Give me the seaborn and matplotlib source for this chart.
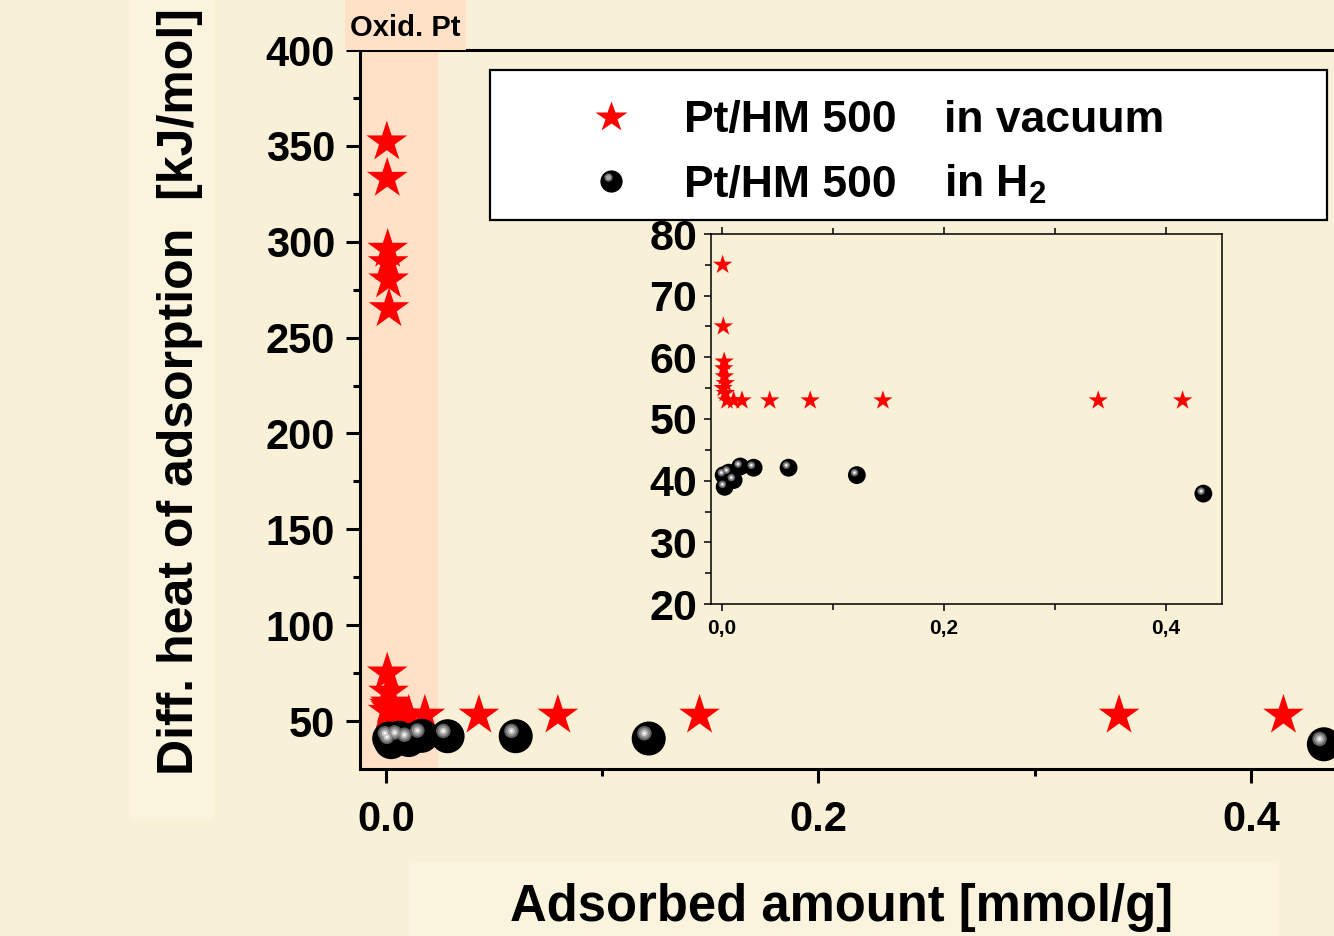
import matplotlib
matplotlib.use("Agg")
import matplotlib.pyplot as plt
import seaborn as sns
import numpy as np
import pandas as pd
from matplotlib.transforms import offset_copy
from matplotlib.patches import Rectangle
from matplotlib.lines import Line2D
from matplotlib import font_manager

# ---------------- data ----------------
x_vac = [0.0004, 0.0006, 0.0008, 0.0010, 0.0012, 0.0014,
         0.0006, 0.0012, 0.0020, 0.0016, 0.0022, 0.0030, 0.0010, 0.0030,
         0.0045, 0.0105, 0.0180, 0.0430, 0.0795, 0.1450, 0.3390, 0.4150]
y_vac = [352, 333, 296, 289, 280, 265,
         75.0, 65.0, 59.3, 58.2, 56.9, 55.8, 55.0, 54.2,
         53, 53, 53, 53, 53, 53, 53, 53]

x_h2 = [0.0015, 0.0024, 0.0060, 0.0105, 0.0165, 0.0285, 0.0600, 0.1215, 0.4337]
y_h2 = [40.9, 39.0, 41.3, 40.1, 42.3, 42.1, 42.1, 40.9, 37.9]

main_xticks = [0.0, 0.2, 0.4]
main_xticklabels = ["0.0", "0.2", "0.4"]
main_yticks = [50, 100, 150, 200, 250, 300, 350, 400]
inset_xticks = [0.0, 0.2, 0.4]
inset_xticklabels = ["0,0", "0,2", "0,4"]
inset_yticks = [20, 30, 40, 50, 60, 70, 80]

series_labels = ["Pt/HM 500", "Pt/HM 500"]
series_conditions = ["in vacuum", r"in H$_\mathbf{2}$"]
oxid_span = (-0.012, 0.024)

df_vac = pd.DataFrame({"x": x_vac, "y": y_vac})
df_h2 = pd.DataFrame({"x": x_h2, "y": y_h2})

# ---------------- style ----------------
sns.set_style("ticks")
BG = "#F9F1D7"
PEACH = "#FFE1C7"
plt.rcParams["font.family"] = ["Liberation Sans", "DejaVu Sans"]
plt.rcParams["font.weight"] = "bold"
plt.rcParams["axes.labelweight"] = "bold"
plt.rcParams["text.color"] = "black"
plt.rcParams["axes.labelcolor"] = "black"
plt.rcParams["xtick.color"] = "black"
plt.rcParams["ytick.color"] = "black"
plt.rcParams["mathtext.fontset"] = "custom"
plt.rcParams["mathtext.rm"] = "Liberation Sans:bold"
plt.rcParams["mathtext.bf"] = "Liberation Sans:bold"

names = {f.name for f in font_manager.fontManager.ttflist}
if "Liberation Sans Narrow" in names:
    narrow_family, narrow_size = ["Liberation Sans Narrow", "Liberation Sans"], 24
else:
    narrow_family, narrow_size = ["Liberation Sans", "DejaVu Sans"], 21

W, H = 1334, 936
fig = plt.figure(figsize=(W / 100, H / 100), dpi=100, facecolor=BG)

def fx(px):
    return px / W

def fy(py):
    return 1 - py / H

# lighter label backgrounds
fig.add_artist(Rectangle((fx(130), fy(820)), fx(213) - fx(130), fy(0) - fy(820),
                         transform=fig.transFigure, facecolor="#FAF4DF", edgecolor="none", zorder=0))
fig.add_artist(Rectangle((fx(410), fy(936)), fx(1278) - fx(410), fy(862) - fy(936),
                         transform=fig.transFigure, facecolor="#FAF4DF", edgecolor="none", zorder=0))

# ---------------- main axes ----------------
xl_main = (-0.012, 0.46)
px_per_unit = 2162.5
right_px = 386 + xl_main[1] * px_per_unit
ax = fig.add_axes([fx(360), fy(769), fx(right_px) - fx(360), fy(50) - fy(769)])
ax.set_facecolor(BG)
ax.set_xlim(*xl_main)
ax.set_ylim(25, 400)
ax.axvspan(oxid_span[0], oxid_span[1], color=PEACH, zorder=0, lw=0)

def draw_balls(a, df, s, off, hl, z=4):
    sns.scatterplot(data=df, x="x", y="y", ax=a, marker="o", color="black", s=s,
                    edgecolor="none", linewidth=0, zorder=z, legend=False)
    tr = offset_copy(a.transData, fig=fig, x=off[0], y=off[1], units="dots")
    a.scatter(df["x"], df["y"], s=hl[0], color="#5e5e5e", edgecolors="none", transform=tr, zorder=z + 1)
    a.scatter(df["x"], df["y"], s=hl[1], color="#8f8f8f", edgecolors="none", transform=tr, zorder=z + 2)
    a.scatter(df["x"], df["y"], s=hl[2], color="#c8c8c8", edgecolors="none", transform=tr, zorder=z + 3)
    a.scatter(df["x"], df["y"], s=hl[3], color="white", edgecolors="none", transform=tr, zorder=z + 4)

sns.scatterplot(data=df_vac, x="x", y="y", ax=ax, marker="*", color="#FF0000", s=950,
                edgecolor="none", linewidth=0, zorder=3, legend=False)
draw_balls(ax, df_h2, 600, (-4.3, 5.3), (110, 60, 22, 3))

for side in ["left", "bottom", "top", "right"]:
    ax.spines[side].set_linewidth(2.2)
    ax.spines[side].set_color("black")
ax.set_xticks(main_xticks)
ax.set_xticklabels(main_xticklabels)
ax.set_xticks([0.1, 0.3], minor=True)
ax.set_yticks(main_yticks)
ax.set_yticks(np.arange(75, 400, 50), minor=True)
ax.tick_params(axis="both", which="major", direction="out", length=10, width=2.2,
               labelsize=30, colors="black")
ax.tick_params(axis="both", which="minor", direction="out", length=5, width=2.2)
ax.tick_params(axis="y", which="major", pad=8)
ax.tick_params(axis="x", which="major", pad=12)
for lab in ax.get_xticklabels() + ax.get_yticklabels():
    lab.set_fontweight("bold")

ax.set_xlabel("Adsorbed amount [mmol/g]", fontsize=36.5, fontweight="bold", color="black")
ax.set_ylabel("Diff. heat of adsorption  [kJ/mol]", fontsize=36, fontweight="bold", color="black")
axw = right_px - 360
axh = 769 - 50
ax.xaxis.set_label_coords((842 - 360) / axw, (769 - 908) / axh)
ax.xaxis.label.set_va("center")
ax.yaxis.set_label_coords((180 - 360) / axw, (769 - 392) / axh)
ax.yaxis.label.set_rotation_mode("default")
ax.yaxis.label.set_va("center")
ax.yaxis.label.set_ha("center")

# Oxid. Pt label box above the axes
fig.add_artist(Rectangle((fx(345), fy(50)), fx(466) - fx(345), fy(0) - fy(50),
                         transform=fig.transFigure, facecolor=PEACH, edgecolor="none", zorder=1))
fig.text(fx(405), fy(28), "Oxid. Pt", ha="center", va="center", fontsize=narrow_size,
         family=narrow_family, fontweight="bold", color="black", zorder=2)

# ---------------- legend (manual box) ----------------
LZ = 3
fig.add_artist(Rectangle((fx(490), fy(220)), fx(1327) - fx(490), fy(70) - fy(220),
                         transform=fig.transFigure, facecolor="white", edgecolor="black",
                         lw=1.6, zorder=LZ))
fig.add_artist(Line2D([fx(611)], [fy(117)], marker="*", ms=23.5, color="#FF0000",
                      mec="none", ls="none", transform=fig.transFigure, zorder=LZ + 1))
fig.add_artist(Line2D([fx(611)], [fy(181)], marker="o", ms=16, color="black",
                      mec="none", ls="none", transform=fig.transFigure, zorder=LZ + 1))
fig.add_artist(Line2D([fx(608)], [fy(177)], marker="o", ms=6, color="#6a6a6a",
                      mec="none", ls="none", transform=fig.transFigure, zorder=LZ + 2))
fig.add_artist(Line2D([fx(608)], [fy(177)], marker="o", ms=3.5, color="#a8a8a8",
                      mec="none", ls="none", transform=fig.transFigure, zorder=LZ + 3))
for i, base in enumerate([132, 197]):
    fig.text(fx(684), fy(base), series_labels[i], ha="left", va="baseline",
             fontsize=32, fontweight="bold", color="black", zorder=LZ + 1)
    fig.text(fx(944), fy(base), series_conditions[i], ha="left", va="baseline",
             fontsize=32, fontweight="bold", color="black", zorder=LZ + 1)

# ---------------- inset ----------------
ix0 = -0.0099
ix1 = 0.4505
axi = fig.add_axes([fx(711), fy(604), fx(1222) - fx(711), fy(234) - fy(604)], zorder=10)
axi.set_facecolor(BG)
axi.set_xlim(ix0, ix1)
axi.set_ylim(20, 80)
sns.scatterplot(data=df_vac, x="x", y="y", ax=axi, marker="*", color="#FF0000", s=215,
                edgecolor="none", linewidth=0, zorder=3, legend=False)
draw_balls(axi, df_h2, 165, (-2.3, 2.5), (30, 14, 5, 1.5))
for side in ["left", "bottom", "top", "right"]:
    axi.spines[side].set_linewidth(1.1)
    axi.spines[side].set_color("black")
axi.set_xticks(inset_xticks)
axi.set_xticklabels(inset_xticklabels)
axi.set_xticks([0.1, 0.3], minor=True)
axi.set_yticks(inset_yticks)
axi.set_yticks(np.arange(25, 80, 10), minor=True)
axi.tick_params(axis="both", which="both", direction="out", width=1.1, colors="black")
axi.tick_params(axis="both", which="major", length=5)
axi.tick_params(axis="both", which="minor", length=4)
axi.tick_params(axis="x", which="both", top=True)
axi.tick_params(axis="y", which="major", labelsize=31, pad=5)
axi.tick_params(axis="x", which="major", labelsize=15, pad=6)
for lab in axi.get_xticklabels() + axi.get_yticklabels():
    lab.set_fontweight("bold")
axi.set_xlabel("")
axi.set_ylabel("")

fig.savefig("out.png", dpi=100, facecolor=BG)
